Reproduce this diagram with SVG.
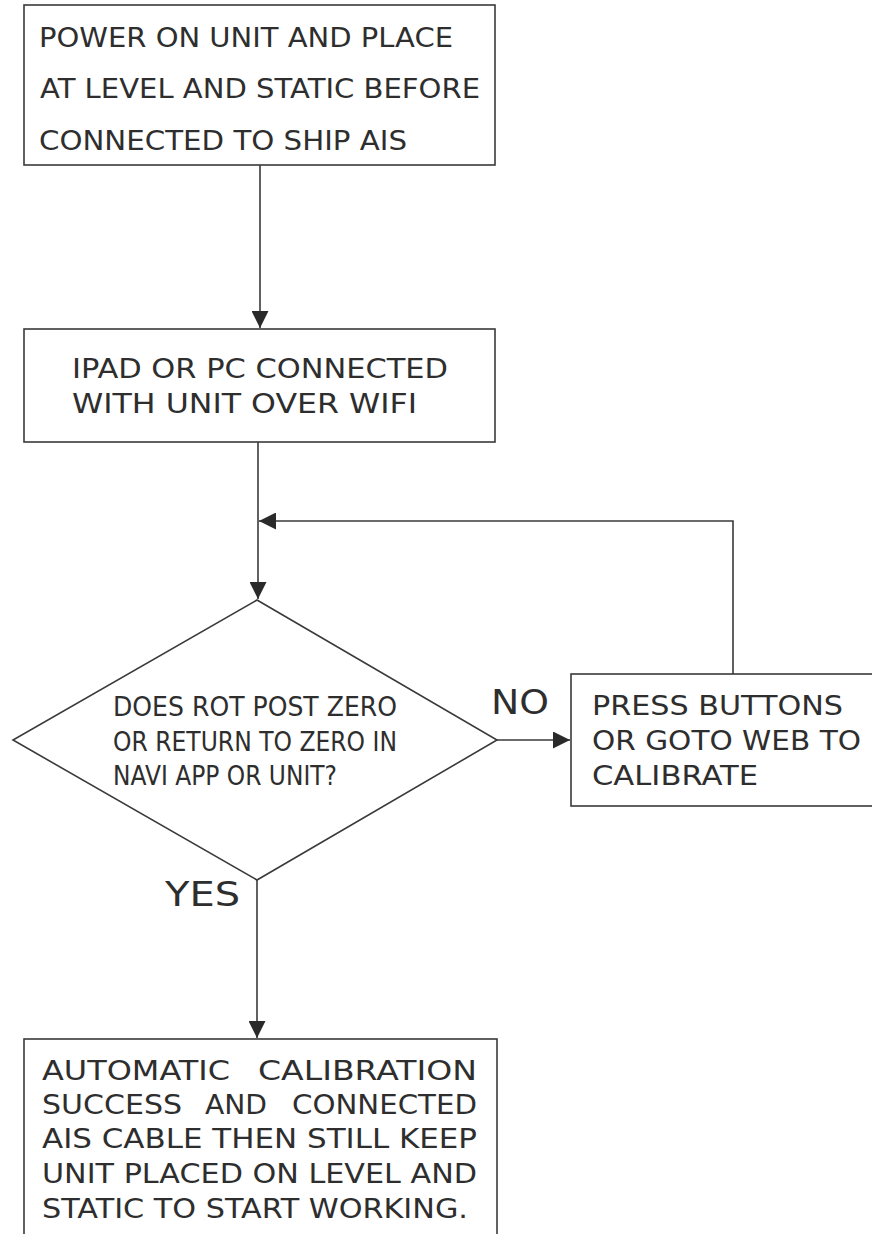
<svg xmlns="http://www.w3.org/2000/svg" width="872" height="1234" viewBox="0 0 872 1234">
<style>
.box{fill:#fff;stroke:#3a3a3a;stroke-width:1.6}
.ln{fill:none;stroke:#3a3a3a;stroke-width:1.6}
.t{font-family:"DejaVu Sans","Liberation Sans",sans-serif;font-size:27px;fill:#2e2e2e}
.d{font-family:"DejaVu Sans","Liberation Sans",sans-serif;font-size:26px;fill:#2e2e2e}
.lbl{font-family:"DejaVu Sans","Liberation Sans",sans-serif;font-size:34px;fill:#2e2e2e}
</style>
<defs>
<marker id="ah" markerUnits="userSpaceOnUse" markerWidth="17" markerHeight="17" refX="17" refY="8.5" orient="auto">
<path d="M0,0 L17,8.5 L0,17 z" fill="#2a2a2a"/>
</marker>
</defs>
<rect width="872" height="1234" fill="#fff"/>
<g id="connectors">
<line class="ln" x1="260" y1="165" x2="260" y2="328" marker-end="url(#ah)"/>
<line class="ln" x1="258" y1="442" x2="258" y2="599" marker-end="url(#ah)"/>
<path class="ln" d="M733,674 V521 H259" marker-end="url(#ah)"/>
<line class="ln" x1="497" y1="740" x2="570" y2="740" marker-end="url(#ah)"/>
<line class="ln" x1="257" y1="880" x2="257" y2="1038" marker-end="url(#ah)"/>
<text class="lbl" x="491" y="714" textLength="58" lengthAdjust="spacingAndGlyphs">NO</text>
<text class="lbl" x="165" y="906" textLength="75" lengthAdjust="spacingAndGlyphs">YES</text>
</g>
<g id="n1">
<rect class="box" x="24" y="5" width="471" height="160"/>
<text class="t" x="39" y="47" textLength="414" lengthAdjust="spacingAndGlyphs">POWER ON UNIT  AND PLACE</text>
<text class="t" x="40" y="98" textLength="440" lengthAdjust="spacingAndGlyphs">AT LEVEL AND STATIC BEFORE</text>
<text class="t" x="39" y="150" textLength="368" lengthAdjust="spacingAndGlyphs">CONNECTED TO SHIP AIS</text>
</g>
<g id="n2">
<rect class="box" x="24" y="329" width="471" height="113"/>
<text class="t" x="72" y="378" textLength="376" lengthAdjust="spacingAndGlyphs">IPAD OR PC CONNECTED</text>
<text class="t" x="72" y="413" textLength="345" lengthAdjust="spacingAndGlyphs">WITH UNIT OVER WIFI</text>
</g>
<g id="n3">
<polygon class="box" points="257,600 497,740 257,880 13,740"/>
<text class="d" x="113" y="716" textLength="284" lengthAdjust="spacingAndGlyphs">DOES  ROT  POST  ZERO</text>
<text class="d" x="113" y="751" textLength="284" lengthAdjust="spacingAndGlyphs">OR RETURN TO ZERO IN</text>
<text class="d" x="113" y="785" textLength="224" lengthAdjust="spacingAndGlyphs">NAVI APP OR UNIT?</text>
</g>
<g id="n4">
<rect class="box" x="571" y="674" width="320" height="132"/>
<text class="t" x="592" y="715" textLength="251" lengthAdjust="spacingAndGlyphs">PRESS BUTTONS</text>
<text class="t" x="592" y="750" textLength="269" lengthAdjust="spacingAndGlyphs">OR GOTO WEB TO</text>
<text class="t" x="592" y="785" textLength="166" lengthAdjust="spacingAndGlyphs">CALIBRATE</text>
</g>
<g id="n5">
<rect class="box" x="24" y="1039" width="473" height="210"/>
<text class="t" x="42" y="1080" textLength="188" lengthAdjust="spacingAndGlyphs">AUTOMATIC</text>
<text class="t" x="258" y="1080" textLength="219" lengthAdjust="spacingAndGlyphs">CALIBRATION</text>
<text class="t" x="42" y="1114" textLength="140" lengthAdjust="spacingAndGlyphs">SUCCESS</text>
<text class="t" x="205" y="1114" textLength="62" lengthAdjust="spacingAndGlyphs">AND</text>
<text class="t" x="292" y="1114" textLength="185" lengthAdjust="spacingAndGlyphs">CONNECTED</text>
<text class="t" x="42" y="1148" textLength="435" lengthAdjust="spacingAndGlyphs">AIS CABLE THEN STILL KEEP</text>
<text class="t" x="42" y="1183" textLength="435" lengthAdjust="spacingAndGlyphs">UNIT PLACED ON LEVEL AND</text>
<text class="t" x="42" y="1218" textLength="426" lengthAdjust="spacingAndGlyphs">STATIC TO START WORKING.</text>
</g>
</svg>
